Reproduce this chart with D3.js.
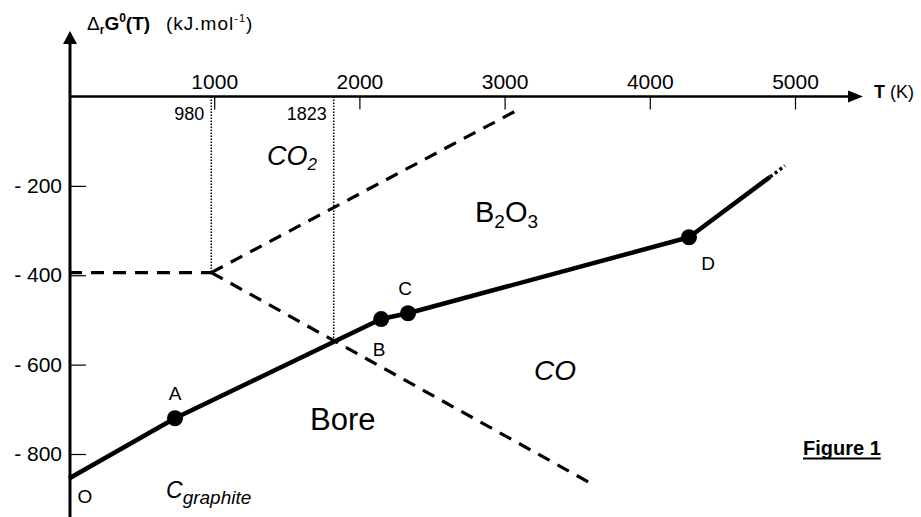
<!DOCTYPE html>
<html>
<head>
  <title>Figure 1</title>
  <script src="https://cdn.jsdelivr.net/npm/d3@7/dist/d3.min.js"></script>
  <style>
    body { margin: 0; background: #fff; }
    svg { display: block; font-family: "Liberation Sans", Arial, sans-serif; }
    .tick line { stroke: #000; stroke-width: 1.2px; }
    .tick text { fill: #000; }
  </style>
</head>
<body>
  <div id="chart"></div>
  <script>
    // axis ticks
    const xTicks = [1000, 2000, 3000, 4000, 5000];
    const yTicks = [-200, -400, -600, -800];

    // solid line (T in K, deltaG in kJ/mol)
    const solidT = [0, 730, 2150, 2335, 4270, 4828];
    const solidG = [-855, -720, -498, -485, -315, -180];
    // dotted continuation
    const tailT = [4828, 4931];
    const tailG = [-180, -155];

    // marked points
    const pointNames = ['A', 'B', 'C', 'D'];
    const pointT = [730, 2150, 2335, 4270];
    const pointG = [-720, -498, -485, -315];

    // dashed lines
    const co2T = [0, 980];
    const co2G = [-394, -394];
    const upperT = [980, 3090];
    const upperG = [-394, -30];
    const lowerT = [980, 3590];
    const lowerG = [-394, -865];

    // dotted markers
    const markT = [980, 1823];
    const markG = [-394, -548];
    const markLabels = ['980', '1823'];

    const width = 921, height = 517;
    const font = '"Liberation Sans", Arial, sans-serif';

    const svg = d3.select('#chart').append('svg')
      .attr('width', width)
      .attr('height', height);

    const x = d3.scaleLinear().domain([0, 5000]).range([69, 795]);
    const y = d3.scaleLinear().domain([0, -800]).range([96.5, 454]);

    const line = d3.line().x(d => x(d[0])).y(d => y(d[1]));
    const zip = (a, b) => a.map((v, i) => [v, b[i]]);

    // dotted vertical markers
    markT.forEach((t, i) => {
      svg.append('line')
        .attr('x1', x(t)).attr('x2', x(t))
        .attr('y1', y(0)).attr('y2', y(markG[i]))
        .attr('stroke', '#000')
        .attr('stroke-width', 1.5)
        .attr('stroke-dasharray', '1.5,1.5');
      svg.append('text')
        .attr('x', x(t) - 7)
        .attr('y', y(0) + 23)
        .attr('text-anchor', 'end')
        .attr('font-size', 18)
        .text(markLabels[i]);
    });

    // dashed lines
    [[co2T, co2G], [upperT, upperG], [lowerT, lowerG]].forEach(([t, g]) => {
      svg.append('path')
        .attr('d', line(zip(t, g)))
        .attr('fill', 'none')
        .attr('stroke', '#000')
        .attr('stroke-width', 3.2)
        .attr('stroke-dasharray', '13,9');
    });

    // solid line
    svg.append('path')
      .attr('d', line(zip(solidT, solidG)))
      .attr('fill', 'none')
      .attr('stroke', '#000')
      .attr('stroke-width', 4.5)
      .attr('stroke-linejoin', 'round');

    svg.append('path')
      .attr('d', line(zip(tailT, tailG)))
      .attr('fill', 'none')
      .attr('stroke', '#000')
      .attr('stroke-width', 3.5)
      .attr('stroke-dasharray', '3,3');

    // points
    svg.selectAll('circle.pt')
      .data(pointNames)
      .join('circle')
      .attr('class', 'pt')
      .attr('cx', (d, i) => x(pointT[i]))
      .attr('cy', (d, i) => y(pointG[i]))
      .attr('r', 8)
      .attr('fill', '#000');

    const labelOffset = { A: [0, -18], B: [-2, 37], C: [-3, -18], D: [19, 33] };
    svg.selectAll('text.pt')
      .data(pointNames)
      .join('text')
      .attr('class', 'pt')
      .attr('x', (d, i) => x(pointT[i]) + labelOffset[d][0])
      .attr('y', (d, i) => y(pointG[i]) + labelOffset[d][1])
      .attr('text-anchor', 'middle')
      .attr('font-size', 19)
      .text(d => d);

    // axes
    const xAxis = d3.axisTop(x)
      .tickValues(xTicks)
      .tickSize(-13)
      .tickPadding(8)
      .tickFormat(d3.format('d'));
    svg.append('g')
      .attr('transform', `translate(0,${y(0)})`)
      .call(xAxis)
      .attr('font-family', font)
      .attr('font-size', 21)
      .call(g => g.select('.domain').remove());

    const yAxis = d3.axisLeft(y)
      .tickValues(yTicks)
      .tickSize(-16)
      .tickPadding(8)
      .tickFormat(d => '- ' + Math.abs(d));
    svg.append('g')
      .attr('transform', `translate(${x(0) + 1},0)`)
      .call(yAxis)
      .attr('font-family', font)
      .attr('font-size', 21)
      .call(g => g.select('.domain').remove());

    // axis lines with arrows
    svg.append('line')
      .attr('x1', x(0)).attr('x2', 850)
      .attr('y1', y(0)).attr('y2', y(0))
      .attr('stroke', '#000').attr('stroke-width', 2.5);
    svg.append('path')
      .attr('d', `M848,${y(0) - 6}L863,${y(0)}L848,${y(0) + 6}Z`)
      .attr('fill', '#000');

    svg.append('line')
      .attr('x1', x(0) + 1).attr('x2', x(0) + 1)
      .attr('y1', height).attr('y2', 42)
      .attr('stroke', '#000').attr('stroke-width', 3);
    svg.append('path')
      .attr('d', `M${x(0) - 6},44L${x(0) + 1},31L${x(0) + 8},44Z`)
      .attr('fill', '#000');

    // axis titles
    const yt = svg.append('text').attr('x', 87).attr('y', 30).attr('font-size', 19);
    yt.append('tspan').text('\u0394');
    yt.append('tspan').attr('font-size', 12).attr('font-weight', 'bold').attr('dy', 4).text('r');
    yt.append('tspan').attr('font-weight', 'bold').attr('dy', -4).text('G');
    yt.append('tspan').attr('font-size', 12).attr('font-weight', 'bold').attr('dy', -8).text('0');
    yt.append('tspan').attr('font-weight', 'bold').attr('dy', 8).text('(T)');
    yt.append('tspan').attr('x', 166).attr('letter-spacing', 1).text('(kJ.mol');
    yt.append('tspan').attr('font-size', 11).attr('dy', -8).attr('letter-spacing', 1).text('-1');
    yt.append('tspan').attr('dy', 8).text(')');

    const xt = svg.append('text').attr('x', 874).attr('y', 98).attr('font-size', 18);
    xt.append('tspan').attr('font-weight', 'bold').text('T');
    xt.append('tspan').text(' (K)');

    // region labels
    svg.append('text').attr('x', 85).attr('y', 503)
      .attr('text-anchor', 'middle').attr('font-size', 19).text('O');

    const co2 = svg.append('text').attr('x', 267).attr('y', 165)
      .attr('font-size', 27).attr('font-style', 'italic');
    co2.append('tspan').text('CO');
    co2.append('tspan').attr('font-size', 17).attr('dy', 5).text('2');

    const b2o3 = svg.append('text').attr('x', 475).attr('y', 222).attr('font-size', 29);
    b2o3.append('tspan').text('B');
    b2o3.append('tspan').attr('font-size', 19).attr('dy', 6).text('2');
    b2o3.append('tspan').attr('dy', -6).text('O');
    b2o3.append('tspan').attr('font-size', 19).attr('dy', 6).text('3');

    svg.append('text').attr('x', 534).attr('y', 380)
      .attr('font-size', 28).attr('font-style', 'italic').text('CO');

    svg.append('text').attr('x', 310).attr('y', 430)
      .attr('font-size', 31).text('Bore');

    const cg = svg.append('text').attr('x', 166).attr('y', 498)
      .attr('font-size', 23).attr('font-style', 'italic');
    cg.append('tspan').text('C');
    cg.append('tspan').attr('font-size', 19).attr('dy', 6).text('graphite');

    const fig = svg.append('text').attr('x', 803).attr('y', 455)
      .attr('font-size', 20).attr('font-weight', 'bold').text('Figure 1');
    const fw = fig.node().getComputedTextLength();
    svg.append('line')
      .attr('x1', 803).attr('x2', 803 + fw)
      .attr('y1', 458.5).attr('y2', 458.5)
      .attr('stroke', '#000').attr('stroke-width', 2);
  </script>
</body>
</html>
